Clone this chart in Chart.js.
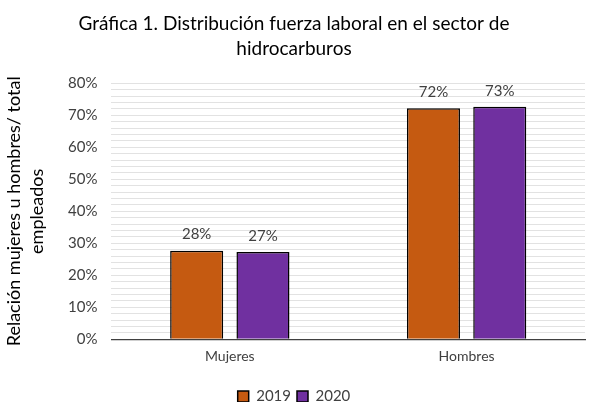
<!DOCTYPE html>
<html>
<head>
<meta charset="utf-8">
<script src="https://cdn.jsdelivr.net/npm/chart.js@4.4.1/dist/chart.umd.min.js"></script>
<style>
  html, body { margin: 0; padding: 0; background: #fff; }
  #wrap { width: 591px; height: 402px; position: relative; }
</style>
</head>
<body>
<div id="wrap"><canvas id="chart"></canvas></div>
<script>
const categories = ["Mujeres", "Hombres"];
const years = ["2019", "2020"];
const values2019 = [0.277, 0.722];
const values2020 = [0.273, 0.727];
const colors = ["#C55A11", "#7030A0"];

const FONT = "Lato, 'Liberation Sans', sans-serif";

// etiquetas encima de cada barra
const barLabels = {
  id: "barLabels",
  afterDatasetsDraw(chart) {
    const c = chart.ctx;
    c.save();
    c.font = "15px " + FONT;
    c.fillStyle = "#404040";
    c.textAlign = "center";
    c.textBaseline = "middle";
    chart.data.datasets.forEach((ds, i) => {
      chart.getDatasetMeta(i).data.forEach((bar, j) => {
        c.fillText(Math.round(ds.data[j] * 100) + "%", bar.x, bar.y - 16);
      });
    });
    c.restore();
  }
};

new Chart(document.getElementById("chart"), {
  type: "bar",
  data: {
    labels: categories,
    datasets: [
      { label: years[0], data: values2019, backgroundColor: colors[0] },
      { label: years[1], data: values2020, backgroundColor: colors[1] },
    ]
  },
  options: {
    animation: false,
    responsive: true,
    maintainAspectRatio: false,
    devicePixelRatio: 1,
    layout: { padding: { left: 3, right: 6, top: 4, bottom: -12 } },
    datasets: {
      bar: {
        borderColor: "#000",
        borderWidth: 1.5,
        categoryPercentage: 0.56,
        barPercentage: 0.8,
      }
    },
    plugins: {
      title: {
        display: true,
        text: ["Gráfica 1. Distribución fuerza laboral en el sector de", "hidrocarburos"],
        color: "#000",
        font: { family: FONT, size: 19, weight: "normal", lineHeight: 1.3 },
        padding: { top: 8, bottom: 22 },
      },
      legend: {
        position: "bottom",
        labels: {
          color: "#404040",
          font: { family: FONT, size: 15 },
          boxWidth: 11,
          boxHeight: 11,
          padding: 6,
        }
      },
      tooltip: { enabled: false },
    },
    scales: {
      x: {
        grid: { display: false, drawTicks: false },
        border: { color: "#404040", width: 1.2 },
        ticks: { color: "#404040", font: { family: FONT, size: 14 }, padding: 9 },
        afterFit: (scale) => { scale.height += 9; },
      },
      y: {
        min: 0,
        max: 0.8,
        border: { display: false },
        grid: {
          drawTicks: false,
          borderDash: [2, 1],
          color: (ctx) => ctx.tick && ctx.tick.value === 0 ? "rgba(0,0,0,0)" : "#e2e2e2",
        },
        ticks: {
          stepSize: 0.02,
          autoSkip: false,
          padding: 14,
          color: "#404040",
          font: { family: FONT, size: 15 },
          callback: (v) => {
            const p = Math.round(v * 100);
            return p % 10 === 0 ? p + "%" : "";
          },
        },
        title: {
          display: true,
          text: ["Relación mujeres u hombres/ total", "empleados"],
          color: "#000",
          font: { family: FONT, size: 18, lineHeight: 1.25 },
          padding: { top: 0, bottom: 6 },
        }
      }
    }
  },
  plugins: [barLabels]
});
</script>
</body>
</html>
